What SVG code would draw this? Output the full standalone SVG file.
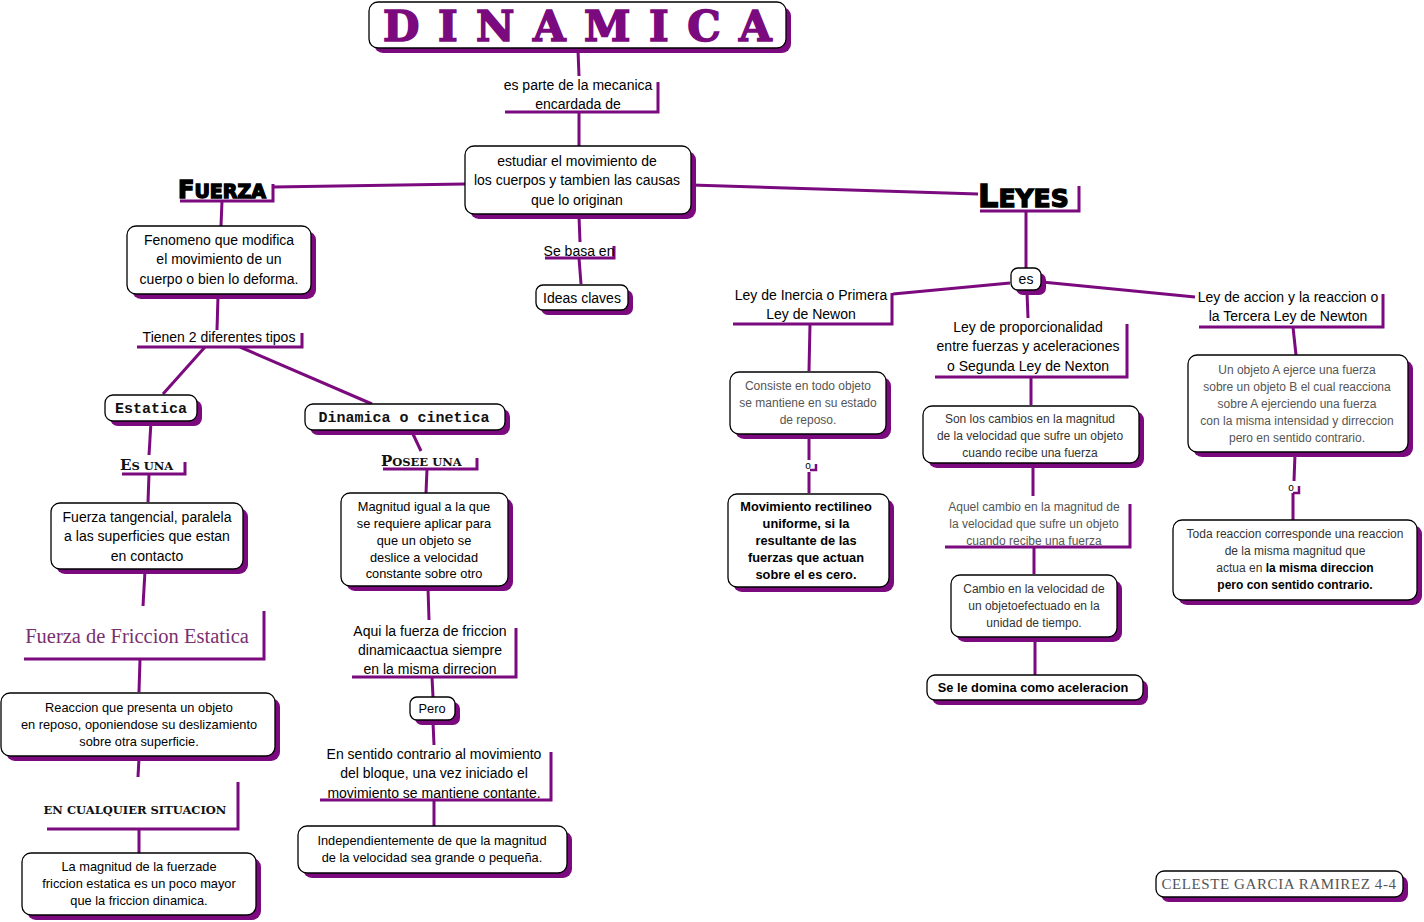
<svg xmlns="http://www.w3.org/2000/svg" width="1424" height="922" viewBox="0 0 1424 922">
<style>
.sh{fill:#7a0a7e}
.bx{fill:#fff;stroke:#000;stroke-width:1.3}
.ln{stroke:#7a0a7e;stroke-width:3;fill:none}
.t{font-family:"Liberation Sans",Arial,sans-serif;font-size:14px;fill:#000;text-anchor:middle}
.g{fill:#555;font-size:12px}
.s{font-size:12.8px}
.b{font-weight:bold}
.mono{font-family:"Liberation Mono","Courier New",monospace;font-weight:bold;font-size:15px;fill:#111;text-anchor:middle}
.hd{font-family:"DejaVu Sans",sans-serif;font-weight:900;fill:#000;stroke:#000;stroke-width:1.4;text-anchor:start}
.sc{font-family:"DejaVu Serif",serif;font-weight:bold;fill:#111;text-anchor:start}
</style>
<rect width="1424" height="922" fill="#fff"/>
<g id="connectors" class="ln">
<path d="M578,50 L579,76"/>
<path d="M579,112 V146"/>
<path d="M465,184 L273,187"/>
<path d="M222,201 L221,226"/>
<path d="M218,296 L217,330"/>
<path d="M205,347 L163,394"/>
<path d="M240,347 L372,404"/>
<path d="M151,422 L149,455"/>
<path d="M149,474 L148,502"/>
<path d="M145,571 L143,606"/>
<path d="M140,659 L139,692"/>
<path d="M139,758 L138,777"/>
<path d="M139,829 L139,853"/>
<path d="M412,432 L421,451"/>
<path d="M427,469 L426,493"/>
<path d="M428,588 L429,620"/>
<path d="M432,677 L433,697"/>
<path d="M433,722 L434,745"/>
<path d="M434,800 L434,826"/>
<path d="M579,216 L580,242"/>
<path d="M579,258 L581,284"/>
<path d="M691,185 L978,194"/>
<path d="M1026,211 V268"/>
<path d="M1010,283 L893,294"/>
<path d="M1042,282 L1195,297"/>
<path d="M1027,292 L1028,318"/>
<path d="M810,324 L809,371"/>
<path d="M809,436 V460"/>
<path d="M809,472 V493"/>
<path d="M1031,377 V405"/>
<path d="M1033,465 V496"/>
<path d="M1034,547 V574"/>
<path d="M1035,639 V675"/>
<path d="M1293,327 L1296,355"/>
<path d="M1295,454 L1294,481"/>
<path d="M1293,493 V520"/>
</g>
<g id="title">
<rect class="sh" x="374" y="7" width="417" height="46" rx="9"/>
<rect class="bx" x="369" y="2" width="417" height="46" rx="9"/>
<text x="383" y="41" style="font-family:'DejaVu Serif',serif;font-weight:bold;font-size:42px;fill:#7a0a7e;stroke:#7a0a7e;stroke-width:1.6;letter-spacing:18.5px">DINAMICA</text>
</g>
<g id="lbl-parte">
<path class="ln" d="M505,112 H658 V82"/>
<text class="t" x="578" y="90">es parte de la mecanica</text>
<text class="t" x="578" y="109">encardada de</text>
</g>
<g id="central">
<rect class="sh" x="470" y="151" width="226" height="68" rx="9"/>
<rect class="bx" x="465" y="146" width="226" height="68" rx="9"/>
<text class="t" x="577" y="166">estudiar el movimiento de</text>
<text class="t" x="577" y="185">los cuerpos y tambien las causas</text>
<text class="t" x="577" y="205">que lo originan</text>
</g>
<g id="lbl-basa">
<path class="ln" d="M545,258 H614 V246"/>
<text class="t" x="579" y="256">Se basa en</text>
</g>
<g id="ideas">
<rect class="sh" x="541" y="290" width="92" height="25" rx="7"/>
<rect class="bx" x="536" y="285" width="92" height="25" rx="7"/>
<text class="t" x="582" y="303">Ideas claves</text>
</g>
<g id="fuerza">
<path class="ln" d="M180,201 H273 V184"/>
<text class="hd" x="178" y="198" style="font-size:24px">F<tspan style="font-size:19px">UERZA</tspan></text>
</g>
<g id="fenomeno">
<rect class="sh" x="132" y="231" width="184" height="68" rx="9"/>
<rect class="bx" x="127" y="226" width="184" height="68" rx="9"/>
<text class="t" x="219" y="245">Fenomeno que modifica</text>
<text class="t" x="219" y="264">el movimiento de un</text>
<text class="t" x="219" y="284">cuerpo o bien lo deforma.</text>
</g>
<g id="lbl-tipos">
<path class="ln" d="M137,347 H302 V333"/>
<text class="t" x="219" y="342">Tienen 2 diferentes tipos</text>
</g>
<g id="estatica">
<rect class="sh" x="110" y="400" width="92" height="26" rx="8"/>
<rect class="bx" x="105" y="395" width="92" height="26" rx="8"/>
<text class="mono" x="151" y="413">Estatica</text>
</g>
<g id="lbl-esuna">
<path class="ln" d="M122,474 H185 V462"/>
<text class="sc" x="120" y="470" style="font-size:15px">E<tspan style="font-size:11.5px">S UNA</tspan></text>
</g>
<g id="tangencial">
<rect class="sh" x="56" y="508" width="192" height="66" rx="9"/>
<rect class="bx" x="51" y="503" width="192" height="66" rx="9"/>
<text class="t" x="147" y="522">Fuerza tangencial, paralela</text>
<text class="t" x="147" y="541">a las superficies que estan</text>
<text class="t" x="147" y="561">en contacto</text>
</g>
<g id="lbl-friccion-estatica">
<path class="ln" d="M24,659 H264 V611"/>
<text x="137" y="643" style="font-family:'Liberation Serif','Times New Roman',serif;font-size:20.5px;fill:#7a2f6f;text-anchor:middle">Fuerza de Friccion Estatica</text>
</g>
<g id="reaccion">
<rect class="sh" x="6" y="698" width="274" height="63" rx="9"/>
<rect class="bx" x="1" y="693" width="274" height="63" rx="9"/>
<text class="t s" x="139" y="712">Reaccion que  presenta un objeto</text>
<text class="t s" x="139" y="729">en reposo, oponiendose su deslizamiento</text>
<text class="t s" x="139" y="746">sobre otra superficie.</text>
</g>
<g id="lbl-situacion">
<path class="ln" d="M47,829 H238 V782"/>
<text class="sc" x="135" y="814" style="font-size:11.5px;text-anchor:middle">EN CUALQUIER SITUACION</text>
</g>
<g id="magnitud-fe">
<rect class="sh" x="27" y="858" width="234" height="62" rx="9"/>
<rect class="bx" x="22" y="853" width="234" height="62" rx="9"/>
<text class="t s" x="139" y="871">La magnitud de la fuerzade</text>
<text class="t s" x="139" y="888">friccion estatica es un poco mayor</text>
<text class="t s" x="139" y="905">que la friccion dinamica.</text>
</g>
<g id="dinamica-cinetica">
<rect class="sh" x="310" y="409" width="200" height="26" rx="8"/>
<rect class="bx" x="305" y="404" width="200" height="26" rx="8"/>
<text class="mono" x="404" y="422">Dinamica o cinetica</text>
</g>
<g id="lbl-posee">
<path class="ln" d="M383,469 H477 V458"/>
<text class="sc" x="381" y="466" style="font-size:15px">P<tspan style="font-size:11.5px">OSEE  UNA</tspan></text>
</g>
<g id="magnitud-igual">
<rect class="sh" x="346" y="498" width="167" height="93" rx="9"/>
<rect class="bx" x="341" y="493" width="167" height="93" rx="9"/>
<text class="t s" x="424" y="511">Magnitud igual a la que</text>
<text class="t s" x="424" y="528">se requiere aplicar para</text>
<text class="t s" x="424" y="545">que un objeto se</text>
<text class="t s" x="424" y="562">deslice a velocidad</text>
<text class="t s" x="424" y="578">constante sobre otro</text>
</g>
<g id="lbl-aqui">
<path class="ln" d="M352,677 H516 V628"/>
<text class="t" x="430" y="636">Aqui la fuerza de friccion</text>
<text class="t" x="430" y="655">dinamicaactua siempre</text>
<text class="t" x="430" y="674">en la misma dirrecion</text>
</g>
<g id="pero">
<rect class="sh" x="415" y="702" width="45" height="23" rx="7"/>
<rect class="bx" x="410" y="697" width="45" height="23" rx="7"/>
<text class="t s" x="432" y="713">Pero</text>
</g>
<g id="lbl-sentido">
<path class="ln" d="M320,800 H551 V752"/>
<text class="t" x="434" y="759">En sentido contrario al movimiento</text>
<text class="t" x="434" y="778">del bloque, una vez iniciado el</text>
<text class="t" x="434" y="798">movimiento se mantiene contante.</text>
</g>
<g id="independiente">
<rect class="sh" x="303" y="831" width="269" height="47" rx="9"/>
<rect class="bx" x="298" y="826" width="269" height="47" rx="9"/>
<text class="t s" x="432" y="845">Independientemente de que la magnitud</text>
<text class="t s" x="432" y="862">de la velocidad sea grande o pequeña.</text>
</g>
<g id="leyes">
<path class="ln" d="M980,211 H1079 V186"/>
<text class="hd" x="978" y="207" style="font-size:32px">L<tspan style="font-size:25px">EYES</tspan></text>
</g>
<g id="es">
<rect class="sh" x="1016" y="273" width="30" height="22" rx="7"/>
<rect class="bx" x="1011" y="268" width="30" height="22" rx="7"/>
<text class="t" x="1026" y="284">es</text>
</g>
<g id="lbl-inercia">
<path class="ln" d="M733,324 H892 V293"/>
<text class="t" x="811" y="300">Ley de Inercia o Primera</text>
<text class="t" x="811" y="319">Ley de Newon</text>
</g>
<g id="consiste">
<rect class="sh" x="735" y="377" width="156" height="62" rx="9"/>
<rect class="bx" x="730" y="372" width="156" height="62" rx="9"/>
<text class="t g" x="808" y="390">Consiste en todo objeto</text>
<text class="t g" x="808" y="407">se mantiene en su estado</text>
<text class="t g" x="808" y="424">de reposo.</text>
</g>
<g id="lbl-o1">
<path class="ln" d="M810,470 H816 V464" style="stroke-width:2.5"/>
<text class="t" x="808" y="469" style="font-size:10px">o</text>
</g>
<g id="movimiento">
<rect class="sh" x="733" y="499" width="161" height="93" rx="9"/>
<rect class="bx" x="728" y="494" width="161" height="93" rx="9"/>
<text class="t s b" x="806" y="511">Movimiento rectilineo</text>
<text class="t s b" x="806" y="528">uniforme, si la</text>
<text class="t s b" x="806" y="545">resultante de las</text>
<text class="t s b" x="806" y="562">fuerzas que actuan</text>
<text class="t s b" x="806" y="579">sobre el es cero.</text>
</g>
<g id="lbl-proporcionalidad">
<path class="ln" d="M935,377 H1127 V324"/>
<text class="t" x="1028" y="332">Ley de proporcionalidad</text>
<text class="t" x="1028" y="351">entre fuerzas y aceleraciones</text>
<text class="t" x="1028" y="371">o Segunda Ley de Nexton</text>
</g>
<g id="cambios">
<rect class="sh" x="928" y="411" width="216" height="57" rx="9"/>
<rect class="bx" x="923" y="406" width="216" height="57" rx="9"/>
<text class="t g" x="1030" y="423" style="fill:#333">Son los cambios en la magnitud</text>
<text class="t g" x="1030" y="440" style="fill:#333">de la velocidad que sufre un objeto</text>
<text class="t g" x="1030" y="457" style="fill:#333">cuando recibe una fuerza</text>
</g>
<g id="lbl-aquel">
<path class="ln" d="M945,547 H1130 V504"/>
<text class="t g" x="1034" y="511">Aquel cambio en la magnitud de</text>
<text class="t g" x="1034" y="528">la velocidad que sufre un objeto</text>
<text class="t g" x="1034" y="545">cuando recibe una fuerza</text>
</g>
<g id="cambio-vel">
<rect class="sh" x="956" y="580" width="166" height="62" rx="9"/>
<rect class="bx" x="951" y="575" width="166" height="62" rx="9"/>
<text class="t g" x="1034" y="593" style="fill:#333">Cambio en la velocidad de</text>
<text class="t g" x="1034" y="610" style="fill:#333">un objetoefectuado en la</text>
<text class="t g" x="1034" y="627" style="fill:#333">unidad de tiempo.</text>
</g>
<g id="aceleracion">
<rect class="sh" x="932" y="680" width="216" height="25" rx="8"/>
<rect class="bx" x="927" y="675" width="216" height="25" rx="8"/>
<text class="t s b" x="1033" y="692">Se le domina como aceleracion</text>
</g>
<g id="lbl-accion">
<path class="ln" d="M1199,327 H1383 V294"/>
<text class="t" x="1288" y="302">Ley de accion y la reaccion o</text>
<text class="t" x="1288" y="321">la Tercera Ley de Newton</text>
</g>
<g id="un-objeto">
<rect class="sh" x="1193" y="360" width="220" height="97" rx="9"/>
<rect class="bx" x="1188" y="355" width="220" height="97" rx="9"/>
<text class="t g" x="1297" y="374">Un objeto A ejerce una fuerza</text>
<text class="t g" x="1297" y="391">sobre un objeto B el cual reacciona</text>
<text class="t g" x="1297" y="408">sobre A ejerciendo una fuerza</text>
<text class="t g" x="1297" y="425">con la misma intensidad y dirreccion</text>
<text class="t g" x="1297" y="442">pero en sentido contrario.</text>
</g>
<g id="lbl-o2">
<path class="ln" d="M1293,493 H1299 V486" style="stroke-width:2.5"/>
<text class="t" x="1291" y="491" style="font-size:10px">o</text>
</g>
<g id="toda-reaccion">
<rect class="sh" x="1178" y="525" width="244" height="80" rx="9"/>
<rect class="bx" x="1173" y="520" width="244" height="80" rx="9"/>
<text class="t g" x="1295" y="538" style="fill:#333">Toda reaccion corresponde una reaccion</text>
<text class="t g" x="1295" y="555" style="fill:#333">de la misma magnitud que</text>
<text class="t g" x="1295" y="572" style="fill:#333">actua en <tspan class="b" style="fill:#000">la misma direccion</tspan></text>
<text class="t g b" x="1295" y="589" style="fill:#000">pero con sentido contrario.</text>
</g>
<g id="firma">
<rect class="sh" x="1161" y="876" width="247" height="26" rx="8"/>
<rect class="bx" x="1156" y="871" width="247" height="26" rx="8"/>
<text x="1279" y="889" style="font-family:'Liberation Serif','Times New Roman',serif;font-size:15px;fill:#555;text-anchor:middle;letter-spacing:0.6px">CELESTE GARCIA RAMIREZ 4-4</text>
</g>
</svg>
